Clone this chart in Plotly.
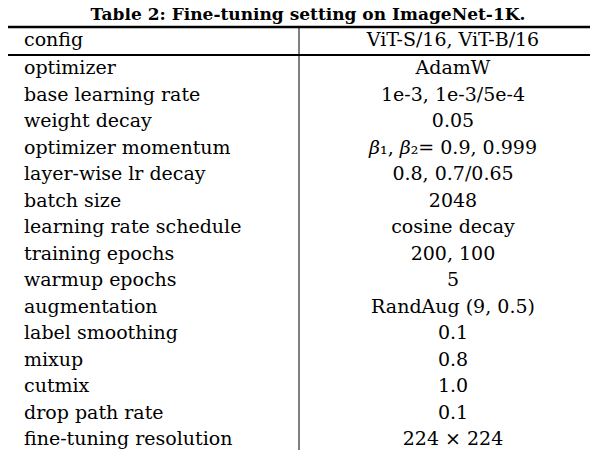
import plotly.graph_objects as go

title = "Table 2: Fine-tuning setting on ImageNet-1K."
header = ["config", "ViT-S/16, ViT-B/16"]
configs = ["optimizer", "base learning rate", "weight decay", "optimizer momentum",
           "layer-wise lr decay", "batch size", "learning rate schedule", "training epochs",
           "warmup epochs", "augmentation", "label smoothing", "mixup", "cutmix",
           "drop path rate", "fine-tuning resolution"]
values = ["AdamW", "1e-3, 1e-3/5e-4", "0.05", "<i>β</i>₁, <i>β</i>₂= 0.9, 0.999",
          "0.8, 0.7/0.65", "2048", "cosine decay", "200, 100", "5", "RandAug (9, 0.5)",
          "0.1", "0.8", "1.0", "0.1", "224 × 224"]

row0 = 61.5
step = 26.5
ys = [row0 + i * step for i in range(len(configs))]
font = dict(family="DejaVu Serif, Liberation Serif, serif", size=19, color="black")

fig = go.Figure()
fig.add_trace(go.Scatter(x=[16] * len(configs), y=ys, text=configs, mode="text",
                         textposition="middle right", textfont=font, hoverinfo="skip"))
fig.add_trace(go.Scatter(x=[445] * len(values), y=ys, text=values, mode="text",
                         textposition="middle center", textfont=font, hoverinfo="skip"))
fig.add_trace(go.Scatter(x=[16, 445], y=[33, 33], text=header, mode="text",
                         textposition=["middle right", "middle center"], textfont=font,
                         hoverinfo="skip"))
fig.add_trace(go.Scatter(x=[300], y=[8], text=["<b>" + title + "</b>"], mode="text",
                         textposition="middle center",
                         textfont=dict(family=font["family"], size=17, color="black"),
                         hoverinfo="skip"))

fig.add_shape(type="line", x0=0, x1=598, y0=19, y1=19, line=dict(color="black", width=2.5))
fig.add_shape(type="line", x0=0, x1=598, y0=47, y1=47, line=dict(color="black", width=2))
fig.add_shape(type="line", x0=0, x1=598, y0=447, y1=447, line=dict(color="black", width=2))
fig.add_shape(type="line", x0=291, x1=291, y0=19, y1=447, line=dict(color="black", width=1))

fig.update_layout(width=598, height=450, margin=dict(l=0, r=0, t=0, b=0),
                  showlegend=False, plot_bgcolor="white", paper_bgcolor="white",
                  xaxis=dict(range=[0, 598], visible=False, fixedrange=True),
                  yaxis=dict(range=[450, 0], visible=False, fixedrange=True))
fig.write_html("out.html")
